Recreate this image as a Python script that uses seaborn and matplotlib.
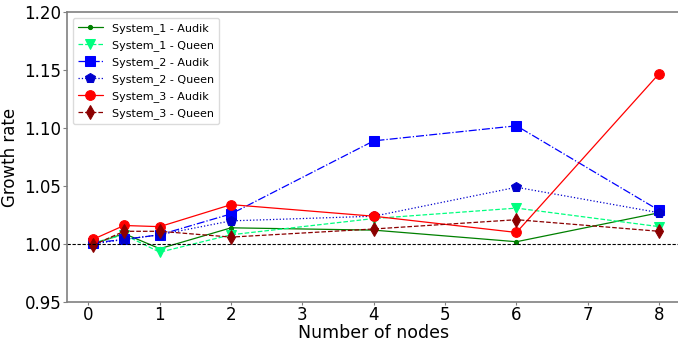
import matplotlib
matplotlib.use("Agg")
import matplotlib.pyplot as plt
import seaborn as sns
import pandas as pd

# --- Daten ---
nodes = [0.0625, 0.5, 1, 2, 4, 6, 8]

sys1_audik = [1.000, 1.009, 0.996, 1.014, 1.012, 1.002, 1.027]
sys1_queen = [1.001, 1.008, 0.993, 1.008, 1.022, 1.031, 1.015]
sys2_audik = [1.001, 1.004, 1.008, 1.026, 1.089, 1.102, 1.029]
sys2_queen = [1.000, 1.004, 1.008, 1.020, 1.024, 1.049, 1.027]
sys3_audik = [1.004, 1.016, 1.015, 1.034, 1.024, 1.010, 1.147]
sys3_queen = [0.999, 1.011, 1.011, 1.006, 1.013, 1.021, 1.011]

series_names = ["System_1 - Audik", "System_1 - Queen", "System_2 - Audik",
                "System_2 - Queen", "System_3 - Audik", "System_3 - Queen"]
series_values = [sys1_audik, sys1_queen, sys2_audik, sys2_queen, sys3_audik, sys3_queen]

# Stil je Serie: Farbe, Linie, Marker, Markergröße
styles = {
    "System_1 - Audik": ("green", "-", ".", 6),
    "System_1 - Queen": ("springgreen", "--", "v", 7),
    "System_2 - Audik": ("blue", "-.", "s", 7),
    "System_2 - Queen": ("mediumblue", ":", "p", 7),
    "System_3 - Audik": ("red", "-", "o", 7),
    "System_3 - Queen": ("darkred", "--", "d", 7),
}

rows = []
for name, vals in zip(series_names, series_values):
    for x, y in zip(nodes, vals):
        rows.append({"nodes": x, "growth": y, "series": name})
df = pd.DataFrame(rows)

sns.set_theme(style="white")
plt.rcParams['font.family'] = ['DejaVu Sans']

fig = plt.figure(figsize=(6.78, 3.43), dpi=100)
ax = fig.add_axes([0.0988, 0.1195, 0.905, 0.845])

for name in series_names:
    color, ls, mk, ms = styles[name]
    sub = df[df["series"] == name]
    sns.lineplot(data=sub, x="nodes", y="growth", ax=ax, color=color, linestyle=ls,
                 marker=mk, markersize=ms, markeredgecolor=color, linewidth=0.9,
                 label=name, estimator=None, errorbar=None)

# Referenzlinie bei 1.0
ax.axhline(1.0, color="black", linestyle="--", linewidth=0.8, dashes=(3, 1.5))

ax.set_xlim(-0.3, 8.3)
ax.set_ylim(0.95, 1.20)
ax.set_xticks(range(0, 9))
ax.set_yticks([0.95, 1.00, 1.05, 1.10, 1.15, 1.20])
ax.set_yticklabels(["0.95", "1.00", "1.05", "1.10", "1.15", "1.20"])
ax.tick_params(axis="both", labelsize=12, labelcolor="black")
ax.tick_params(axis="y", length=3, width=0.8, left=True, color="gray", pad=1)
ax.tick_params(axis="x", length=2, width=0.8, bottom=True, color="gray", pad=1)
ax.set_xlabel("Number of nodes", fontsize=12.5, labelpad=0, color="black")
ax.set_ylabel("Growth rate", fontsize=12, labelpad=4, color="black")

for side, sp in ax.spines.items():
    sp.set_color("gray")
    sp.set_linewidth(1.2)

leg = ax.legend(loc="upper left", fontsize=8, frameon=True, handlelength=2.3,
                borderpad=0.45, labelspacing=0.55, labelcolor="black")
leg.get_frame().set_edgecolor("lightgray")

fig.savefig("out.png", dpi=100)
